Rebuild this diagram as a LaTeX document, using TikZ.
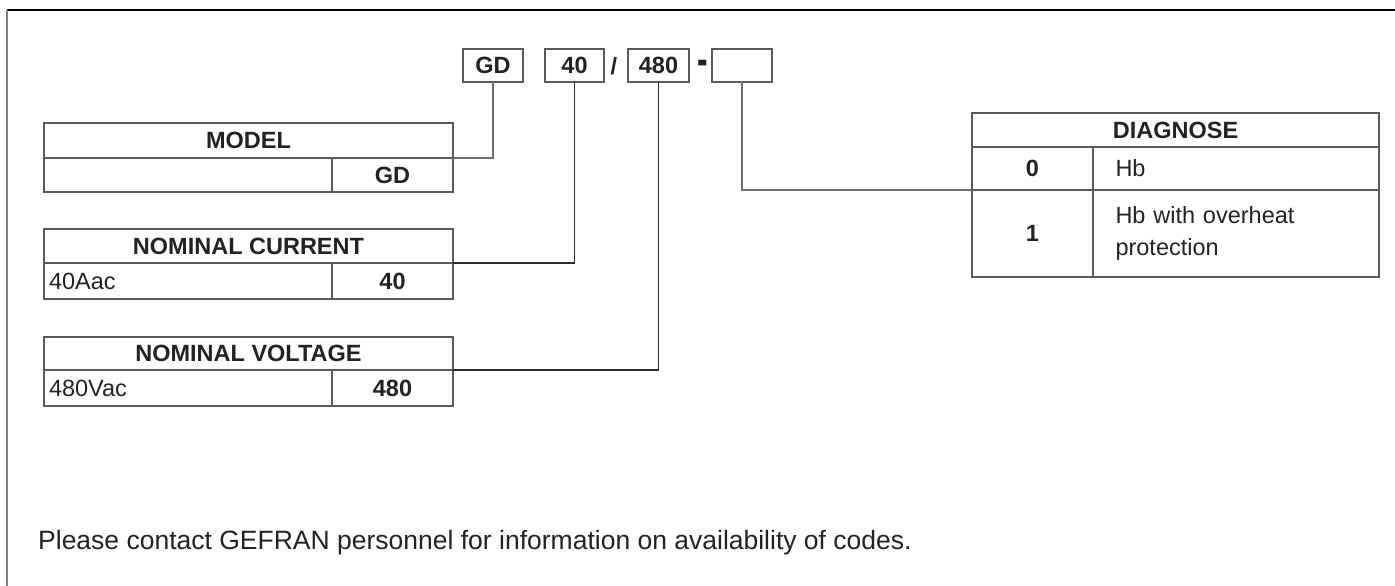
\documentclass[tikz,border=0pt]{standalone}
\usepackage{fontspec}
\setmainfont{Liberation Sans}
\definecolor{cellc}{HTML}{5A5A5A}
\definecolor{txtc}{HTML}{222222}
\definecolor{connA}{HTML}{6E6E6E}
\definecolor{connB}{HTML}{2A2A2A}
\begin{document}
\begin{tikzpicture}[x=1pt,y=-1pt,
  cell/.style={draw=cellc, line width=1.3pt, inner sep=0pt, outer sep=0pt, anchor=north west, text=txtc},
  hd/.style={font=\fontsize{23.5}{28}\selectfont\bfseries},
  tx/.style={font=\fontsize{23.5}{28}\selectfont},
  conn/.style={line width=1.2pt, draw=#1},
  ft/.style={font=\fontsize{26.5}{30}\selectfont, text=txtc, inner sep=0pt, anchor=west}
]
\useasboundingbox (0,0) rectangle (1395,586);
% frame
\draw[black, line width=1.3pt] (7,10) -- (1395,10);
\draw[gray, line width=2pt] (7,10) -- (7,586);

% code boxes
\node[cell, hd, minimum width=60pt, minimum height=33pt] (gd) at (463,49) {GD};
\node[cell, hd, minimum width=59pt, minimum height=33pt] (b40) at (545,49) {40};
\node[hd, text=txtc, inner sep=0pt] (slash) at (614,66) {/};
\node[cell, hd, minimum width=61pt, minimum height=33pt] (b480) at (628,49) {480};
\node[text=txtc, inner sep=0pt, font=\fontsize{30}{30}\selectfont\bfseries, xscale=1.05, yscale=1.6] (dash) at (703,68) {-};
\node[cell, minimum width=60pt, minimum height=33pt] (bx) at (712,49) {};

% MODEL table
\node[cell, hd, minimum width=409pt, minimum height=35pt] (mh) at (44,123) {MODEL};
\node[cell, minimum width=288pt, minimum height=34pt] (m1) at (44,158) {};
\node[cell, hd, minimum width=121pt, minimum height=34pt] (m2) at (332,158) {GD};

% NOMINAL CURRENT table
\node[cell, hd, minimum width=409pt, minimum height=34pt] (ch) at (44,229) {NOMINAL CURRENT};
\node[cell, tx, minimum width=288pt, minimum height=36pt, text width=278pt, inner xsep=5pt, align=left] (c1) at (44,263) {40Aac};
\node[cell, hd, minimum width=121pt, minimum height=36pt] (c2) at (332,263) {40};

% NOMINAL VOLTAGE table
\node[cell, hd, minimum width=409pt, minimum height=33pt] (vh) at (44,337) {NOMINAL VOLTAGE};
\node[cell, tx, minimum width=288pt, minimum height=36pt, text width=278pt, inner xsep=5pt, align=left] (v1) at (44,370) {480Vac};
\node[cell, hd, minimum width=121pt, minimum height=36pt] (v2) at (332,370) {480};

% DIAGNOSE table
\node[cell, hd, minimum width=407pt, minimum height=34pt] (dh) at (972,113) {DIAGNOSE};
\node[cell, hd, minimum width=121pt, minimum height=43pt] (d0a) at (972,147) {0};
\node[cell, tx, minimum width=286pt, minimum height=43pt, text width=241pt, inner xsep=22.5pt, align=left] (d0b) at (1093,147) {Hb};
\node[cell, hd, minimum width=121pt, minimum height=87pt] (d1a) at (972,190) {1};
\node[cell, tx, minimum width=286pt, minimum height=87pt, text width=241pt, inner xsep=22.5pt, align=left, font=\fontsize{23.5}{32}\selectfont] (d1b) at (1093,190) {Hb with overheat\\protection};

% connectors
\draw[conn=connA] (gd.south) |- (mh.south east);
\draw[conn=connB] (b40.south) |- (ch.south east);
\draw[conn=connB] (b480.south) |- (vh.south east);
\draw[conn=connA] (bx.south) |- (d0a.south west);

% footer
\node[ft] (foot) at (38,543) {Please contact GEFRAN personnel for information on availability of codes.};
\end{tikzpicture}
\end{document}
